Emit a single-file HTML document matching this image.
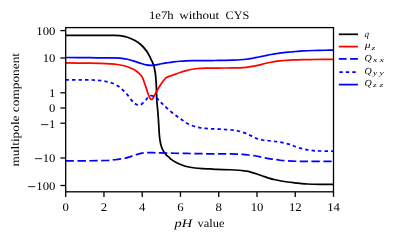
<!DOCTYPE html>
<html><head><meta charset="utf-8"><title>chart</title>
<style>html,body{margin:0;padding:0;background:#fff;}svg{display:block;will-change:transform;}text{font-family:"Liberation Serif",serif;fill:#000;text-rendering:geometricPrecision;}</style></head>
<body>
<svg width="399" height="240" viewBox="0 0 399 240">
<rect width="399" height="240" fill="#fff"/>
<defs><clipPath id="c"><rect x="65.7" y="27.6" width="267.8" height="164.2"/></clipPath></defs>
<g clip-path="url(#c)" fill="none" stroke-width="1.75" stroke-linejoin="round">
<path d="M65.50 35.25 C69.58 35.26 83.42 35.28 90.00 35.30 C96.58 35.32 101.33 35.33 105.00 35.35 C108.67 35.37 109.50 35.34 112.00 35.40 C114.50 35.46 117.42 35.39 120.00 35.70 C122.58 36.01 125.00 36.43 127.50 37.25 C130.00 38.07 132.71 39.31 135.00 40.60 C137.29 41.89 139.38 43.33 141.25 45.00 C143.12 46.67 145.04 49.07 146.25 50.60 C147.46 52.13 147.88 53.13 148.50 54.20 C149.12 55.27 149.54 56.07 150.00 57.00 C150.46 57.93 150.83 58.92 151.25 59.80 C151.67 60.68 152.12 61.43 152.50 62.30 C152.88 63.17 153.18 64.01 153.50 65.00 C153.82 65.99 154.07 66.63 154.40 68.25 C154.73 69.87 155.22 72.41 155.50 74.70 C155.78 76.99 155.95 79.78 156.10 82.00 C156.25 84.22 156.28 85.00 156.40 88.00 C156.52 91.00 156.65 97.00 156.80 100.00 C156.95 103.00 157.12 103.92 157.30 106.00 C157.48 108.08 157.70 110.00 157.90 112.50 C158.10 115.00 158.32 118.25 158.50 121.00 C158.68 123.75 158.85 126.58 159.00 129.00 C159.15 131.42 159.19 133.38 159.40 135.50 C159.61 137.62 159.93 139.95 160.25 141.75 C160.57 143.55 160.84 144.86 161.30 146.30 C161.76 147.74 162.48 149.37 163.00 150.40 C163.52 151.43 163.86 151.73 164.40 152.50 C164.94 153.27 165.42 154.15 166.25 155.00 C167.08 155.85 168.57 156.87 169.40 157.60 C170.23 158.33 170.11 158.58 171.25 159.40 C172.39 160.22 174.38 161.53 176.25 162.50 C178.12 163.47 180.42 164.50 182.50 165.25 C184.58 166.00 186.67 166.54 188.75 167.00 C190.83 167.46 192.71 167.73 195.00 168.00 C197.29 168.27 200.00 168.44 202.50 168.60 C205.00 168.76 207.50 168.82 210.00 168.95 C212.50 169.08 214.17 169.27 217.50 169.40 C220.83 169.53 226.46 169.61 230.00 169.75 C233.54 169.89 236.25 170.04 238.75 170.25 C241.25 170.46 243.12 170.74 245.00 171.00 C246.88 171.26 248.12 171.34 250.00 171.80 C251.88 172.26 254.17 173.05 256.25 173.75 C258.33 174.45 260.42 175.28 262.50 176.00 C264.58 176.72 266.67 177.47 268.75 178.10 C270.83 178.72 272.92 179.27 275.00 179.75 C277.08 180.23 279.17 180.62 281.25 181.00 C283.33 181.38 285.42 181.71 287.50 182.00 C289.58 182.29 291.67 182.52 293.75 182.75 C295.83 182.98 297.71 183.19 300.00 183.40 C302.29 183.61 304.17 183.85 307.50 184.00 C310.83 184.15 315.67 184.23 320.00 184.30 C324.33 184.37 331.25 184.38 333.50 184.40" stroke="#000"/>
<path d="M65.50 62.90 C69.58 62.95 84.25 63.12 90.00 63.20 C95.75 63.28 96.67 63.30 100.00 63.40 C103.33 63.50 107.08 63.62 110.00 63.80 C112.92 63.98 115.00 64.13 117.50 64.50 C120.00 64.87 122.71 65.38 125.00 66.00 C127.29 66.62 129.38 67.42 131.25 68.25 C133.12 69.08 134.79 70.00 136.25 71.00 C137.71 72.00 138.96 73.15 140.00 74.25 C141.04 75.35 141.80 76.27 142.50 77.60 C143.20 78.92 143.57 80.45 144.20 82.20 C144.82 83.95 145.60 86.17 146.25 88.10 C146.90 90.02 147.59 92.30 148.10 93.75 C148.61 95.20 148.95 95.99 149.30 96.80 C149.65 97.61 149.95 98.18 150.20 98.60 C150.45 99.02 150.60 99.15 150.80 99.30 C151.00 99.45 151.20 99.52 151.40 99.50 C151.60 99.48 151.82 99.32 152.00 99.20 C152.18 99.08 152.32 99.00 152.50 98.80 C152.68 98.60 152.68 98.73 153.10 98.00 C153.52 97.27 154.17 95.94 155.00 94.40 C155.83 92.86 157.06 90.53 158.10 88.75 C159.14 86.97 160.20 85.29 161.25 83.75 C162.30 82.21 163.61 80.47 164.40 79.50 C165.19 78.53 165.58 78.28 166.00 77.90 C166.42 77.52 166.48 77.42 166.90 77.20 C167.32 76.98 167.78 76.87 168.50 76.60 C169.22 76.33 170.38 75.91 171.25 75.60 C172.12 75.29 172.29 75.27 173.75 74.75 C175.21 74.23 177.92 73.19 180.00 72.50 C182.08 71.81 184.17 71.14 186.25 70.60 C188.33 70.06 190.42 69.60 192.50 69.25 C194.58 68.90 196.67 68.69 198.75 68.50 C200.83 68.31 202.29 68.17 205.00 68.10 C207.71 68.02 211.67 68.07 215.00 68.05 C218.33 68.03 222.00 68.02 225.00 68.00 C228.00 67.98 230.50 67.97 233.00 67.95 C235.50 67.93 237.79 67.99 240.00 67.90 C242.21 67.81 244.17 67.65 246.25 67.40 C248.33 67.15 250.42 66.78 252.50 66.40 C254.58 66.02 256.67 65.58 258.75 65.10 C260.83 64.62 262.92 63.98 265.00 63.50 C267.08 63.02 269.17 62.65 271.25 62.25 C273.33 61.85 275.42 61.39 277.50 61.10 C279.58 60.81 281.67 60.67 283.75 60.50 C285.83 60.33 288.04 60.20 290.00 60.10 C291.96 60.00 293.33 59.98 295.50 59.90 C297.67 59.82 300.08 59.67 303.00 59.60 C305.92 59.53 307.92 59.53 313.00 59.50 C318.08 59.47 330.08 59.42 333.50 59.40" stroke="#f00"/>
<path d="M65.50 160.80 C69.58 160.79 83.42 160.80 90.00 160.75 C96.58 160.70 100.83 160.67 105.00 160.50 C109.17 160.33 111.67 160.12 115.00 159.75 C118.33 159.38 122.50 158.74 125.00 158.25 C127.50 157.76 128.33 157.34 130.00 156.80 C131.67 156.26 133.50 155.50 135.00 155.00 C136.50 154.50 137.75 154.12 139.00 153.80 C140.25 153.48 141.33 153.28 142.50 153.10 C143.67 152.92 144.75 152.82 146.00 152.75 C147.25 152.68 148.33 152.69 150.00 152.70 C151.67 152.71 154.33 152.77 156.00 152.80 C157.67 152.83 156.83 152.83 160.00 152.90 C163.17 152.97 170.00 153.15 175.00 153.25 C180.00 153.35 185.00 153.42 190.00 153.50 C195.00 153.58 200.00 153.69 205.00 153.75 C210.00 153.81 215.83 153.82 220.00 153.85 C224.17 153.88 227.17 153.87 230.00 153.90 C232.83 153.93 234.92 153.97 237.00 154.05 C239.08 154.13 240.54 154.24 242.50 154.40 C244.46 154.56 246.68 154.78 248.75 155.00 C250.82 155.22 253.44 155.54 254.90 155.75 C256.36 155.96 255.82 155.89 257.50 156.25 C259.18 156.61 262.50 157.43 265.00 157.90 C267.50 158.38 270.00 158.71 272.50 159.10 C275.00 159.49 277.50 159.95 280.00 160.25 C282.50 160.55 284.79 160.73 287.50 160.90 C290.21 161.07 292.50 161.17 296.25 161.25 C300.00 161.33 303.79 161.36 310.00 161.40 C316.21 161.44 329.58 161.48 333.50 161.50" stroke="#00f" stroke-dasharray="8.25 3.53" stroke-dashoffset="-0.2"/>
<path d="M65.50 79.80 C67.92 79.81 75.50 79.82 80.00 79.85 C84.50 79.88 89.17 79.89 92.50 80.00 C95.83 80.11 97.71 80.25 100.00 80.50 C102.29 80.75 104.17 81.04 106.25 81.50 C108.33 81.96 110.53 82.48 112.50 83.25 C114.47 84.02 116.33 84.93 118.10 86.10 C119.87 87.27 121.53 88.78 123.10 90.25 C124.67 91.72 126.14 93.29 127.50 94.90 C128.86 96.51 130.25 98.67 131.25 99.90 C132.25 101.13 132.78 101.62 133.50 102.30 C134.22 102.98 134.98 103.58 135.60 104.00 C136.22 104.42 136.67 104.62 137.20 104.80 C137.72 104.98 138.23 105.10 138.75 105.10 C139.27 105.10 139.78 104.98 140.30 104.80 C140.83 104.62 141.22 104.55 141.90 104.00 C142.58 103.45 143.68 102.25 144.40 101.50 C145.12 100.75 145.73 100.12 146.25 99.50 C146.77 98.88 146.96 98.35 147.50 97.80 C148.04 97.25 148.88 96.55 149.50 96.20 C150.12 95.85 150.67 95.73 151.25 95.70 C151.83 95.67 152.38 95.80 153.00 96.00 C153.62 96.20 154.15 96.33 155.00 96.90 C155.85 97.47 157.17 98.52 158.10 99.40 C159.03 100.28 159.87 101.45 160.60 102.20 C161.33 102.95 161.45 102.92 162.50 103.90 C163.55 104.88 165.33 106.67 166.90 108.10 C168.47 109.53 170.23 111.14 171.90 112.50 C173.57 113.86 175.23 115.04 176.90 116.25 C178.57 117.46 180.23 118.59 181.90 119.75 C183.57 120.91 185.03 122.16 186.90 123.20 C188.77 124.24 191.02 125.27 193.10 126.00 C195.18 126.73 197.32 127.20 199.40 127.60 C201.48 128.00 203.42 128.18 205.60 128.40 C207.78 128.62 210.31 128.78 212.50 128.90 C214.69 129.02 216.67 129.00 218.75 129.10 C220.83 129.20 222.81 129.35 225.00 129.50 C227.19 129.65 229.72 129.75 231.90 130.00 C234.08 130.25 236.02 130.52 238.10 131.00 C240.18 131.48 242.32 132.13 244.40 132.90 C246.48 133.67 248.62 134.68 250.60 135.60 C252.57 136.52 254.27 137.67 256.25 138.40 C258.23 139.13 260.42 139.61 262.50 140.00 C264.58 140.39 266.57 140.50 268.75 140.75 C270.93 141.00 273.31 141.19 275.60 141.50 C277.89 141.81 280.10 142.12 282.50 142.60 C284.90 143.08 288.02 143.79 290.00 144.40 C291.98 145.01 292.73 145.63 294.40 146.25 C296.07 146.87 298.02 147.54 300.00 148.10 C301.98 148.66 304.07 149.18 306.25 149.60 C308.43 150.02 310.81 150.37 313.10 150.60 C315.39 150.83 316.60 150.89 320.00 151.00 C323.40 151.11 331.25 151.21 333.50 151.25" stroke="#00f" stroke-dasharray="3.4 3.085"/>
<path d="M65.50 57.50 C69.58 57.53 84.25 57.65 90.00 57.70 C95.75 57.75 96.67 57.77 100.00 57.80 C103.33 57.83 106.67 57.85 110.00 57.90 C113.33 57.95 117.08 57.88 120.00 58.10 C122.92 58.33 125.00 58.70 127.50 59.25 C130.00 59.80 132.71 60.69 135.00 61.40 C137.29 62.11 139.38 62.92 141.25 63.50 C143.12 64.08 144.58 64.58 146.25 64.90 C147.92 65.22 149.58 65.40 151.25 65.40 C152.92 65.40 154.58 65.18 156.25 64.90 C157.92 64.62 159.38 64.11 161.25 63.75 C163.12 63.39 165.42 63.06 167.50 62.75 C169.58 62.44 171.67 62.15 173.75 61.90 C175.83 61.65 177.92 61.42 180.00 61.25 C182.08 61.08 184.17 60.94 186.25 60.85 C188.33 60.76 190.42 60.73 192.50 60.70 C194.58 60.67 196.67 60.67 198.75 60.65 C200.83 60.63 202.29 60.62 205.00 60.60 C207.71 60.58 211.67 60.55 215.00 60.50 C218.33 60.45 222.00 60.38 225.00 60.30 C228.00 60.22 230.50 60.14 233.00 60.05 C235.50 59.96 237.79 59.88 240.00 59.75 C242.21 59.62 244.17 59.50 246.25 59.25 C248.33 59.00 250.42 58.62 252.50 58.25 C254.58 57.88 256.67 57.42 258.75 57.00 C260.83 56.58 262.92 56.17 265.00 55.75 C267.08 55.33 269.17 54.88 271.25 54.50 C273.33 54.12 275.42 53.82 277.50 53.50 C279.58 53.18 281.67 52.85 283.75 52.60 C285.83 52.35 288.04 52.18 290.00 52.00 C291.96 51.82 293.33 51.68 295.50 51.50 C297.67 51.32 300.08 51.07 303.00 50.90 C305.92 50.73 309.25 50.61 313.00 50.50 C316.75 50.39 322.08 50.29 325.50 50.25 C328.92 50.21 332.17 50.25 333.50 50.25" stroke="#00f"/>
</g>
<g stroke="#000" stroke-width="1.3">
<line x1="65.70" y1="191.9" x2="65.70" y2="196.9"/>
<line x1="103.96" y1="191.9" x2="103.96" y2="196.9"/>
<line x1="142.21" y1="191.9" x2="142.21" y2="196.9"/>
<line x1="180.47" y1="191.9" x2="180.47" y2="196.9"/>
<line x1="218.73" y1="191.9" x2="218.73" y2="196.9"/>
<line x1="256.99" y1="191.9" x2="256.99" y2="196.9"/>
<line x1="295.24" y1="191.9" x2="295.24" y2="196.9"/>
<line x1="333.50" y1="191.9" x2="333.50" y2="196.9"/>
<line x1="60.4" y1="30.60" x2="65.7" y2="30.60"/>
<line x1="60.4" y1="58.00" x2="65.7" y2="58.00"/>
<line x1="60.4" y1="92.80" x2="65.7" y2="92.80"/>
<line x1="60.4" y1="108.00" x2="65.7" y2="108.00"/>
<line x1="60.4" y1="123.20" x2="65.7" y2="123.20"/>
<line x1="60.4" y1="158.00" x2="65.7" y2="158.00"/>
<line x1="60.4" y1="185.50" x2="65.7" y2="185.50"/>
</g>
<rect x="65.7" y="27.6" width="267.8" height="164.2" fill="none" stroke="#000" stroke-width="1.3"/>
<g font-size="11.8px">
<text transform="translate(65.70,211) scale(1.08,1)" text-anchor="middle">0</text>
<text transform="translate(103.96,211) scale(1.08,1)" text-anchor="middle">2</text>
<text transform="translate(142.21,211) scale(1.08,1)" text-anchor="middle">4</text>
<text transform="translate(180.47,211) scale(1.08,1)" text-anchor="middle">6</text>
<text transform="translate(218.73,211) scale(1.08,1)" text-anchor="middle">8</text>
<text transform="translate(256.99,211) scale(1.08,1)" text-anchor="middle">10</text>
<text transform="translate(295.24,211) scale(1.08,1)" text-anchor="middle">12</text>
<text transform="translate(333.50,211) scale(1.08,1)" text-anchor="middle">14</text>
<text transform="translate(55.4,35.00) scale(1.08,1)" text-anchor="end">100</text>
<text transform="translate(55.4,62.00) scale(1.08,1)" text-anchor="end">10</text>
<text transform="translate(55.4,97.00) scale(1.08,1)" text-anchor="end">1</text>
<text transform="translate(55.4,112.00) scale(1.08,1)" text-anchor="end">0</text>
<text transform="translate(55.4,128.00) scale(1.08,1)" text-anchor="end">1</text>
<line x1="41.1" x2="48.3" y1="124.65" y2="124.65" stroke="#000" stroke-width="0.85"/>
<text transform="translate(55.4,162.00) scale(1.08,1)" text-anchor="end">10</text>
<line x1="34.9" x2="42.1" y1="158.65" y2="158.65" stroke="#000" stroke-width="0.85"/>
<text transform="translate(55.4,190.00) scale(1.08,1)" text-anchor="end">100</text>
<line x1="28.1" x2="35.3" y1="186.65" y2="186.65" stroke="#000" stroke-width="0.85"/>
</g>
<g font-size="11.5px"><text x="148.9" y="19" textLength="24.8" lengthAdjust="spacingAndGlyphs">1e7h</text><text x="179.2" y="19" textLength="40" lengthAdjust="spacingAndGlyphs">without</text><text x="225.5" y="19" textLength="23.8" lengthAdjust="spacingAndGlyphs">CYS</text></g>
<g font-size="11.5px"><text x="174.6" y="227" font-style="italic" textLength="17.6" lengthAdjust="spacingAndGlyphs">pH</text><text x="197.5" y="227" textLength="27" lengthAdjust="spacingAndGlyphs">value</text></g>
<text transform="translate(19,166.5) rotate(-90)" font-size="11.5px" textLength="113.5" lengthAdjust="spacingAndGlyphs">multipole component</text>
<g fill="none" stroke-width="1.75">
<line x1="338.8" x2="357.9" y1="34.3" y2="34.3" stroke="#000"/>
<line x1="338.8" x2="357.9" y1="46.6" y2="46.6" stroke="#f00"/>
<line x1="338.8" x2="357.9" y1="58.8" y2="58.8" stroke="#00f" stroke-dasharray="7.8 3.5"/>
<line x1="338.8" x2="357.9" y1="72.2" y2="72.2" stroke="#00f" stroke-dasharray="3.4 3.03" stroke-dashoffset="-0.6"/>
<line x1="338.8" x2="357.9" y1="84.6" y2="84.6" stroke="#00f"/>
</g>
<g font-style="italic">
<text x="364.6" y="37" font-size="9px">q</text>
<text x="364.8" y="48" font-size="9.4px" textLength="5.8" lengthAdjust="spacingAndGlyphs">μ</text><text x="371.6" y="50" font-size="6.7px" fill="#222" textLength="3.8" lengthAdjust="spacingAndGlyphs">z</text>
<text x="364.4" y="61.0" font-size="9.3px" textLength="7.2" lengthAdjust="spacingAndGlyphs">Q</text><text x="373.1" y="62.0" font-size="6.7px" fill="#222" textLength="4.4" lengthAdjust="spacingAndGlyphs">x</text><text x="379.6" y="62.0" font-size="6.7px" fill="#222" textLength="4.4" lengthAdjust="spacingAndGlyphs">x</text>
<text x="364.4" y="74.0" font-size="9.3px" textLength="7.2" lengthAdjust="spacingAndGlyphs">Q</text><text x="373.1" y="75.0" font-size="6.7px" fill="#222" textLength="4.3" lengthAdjust="spacingAndGlyphs">y</text><text x="379.6" y="75.0" font-size="6.7px" fill="#222" textLength="4.3" lengthAdjust="spacingAndGlyphs">y</text>
<text x="364.4" y="86.0" font-size="9.3px" textLength="7.2" lengthAdjust="spacingAndGlyphs">Q</text><text x="373.1" y="87.0" font-size="6.7px" fill="#222" textLength="3.8" lengthAdjust="spacingAndGlyphs">z</text><text x="379.6" y="87.0" font-size="6.7px" fill="#222" textLength="3.8" lengthAdjust="spacingAndGlyphs">z</text>
</g>
</svg></body></html>
